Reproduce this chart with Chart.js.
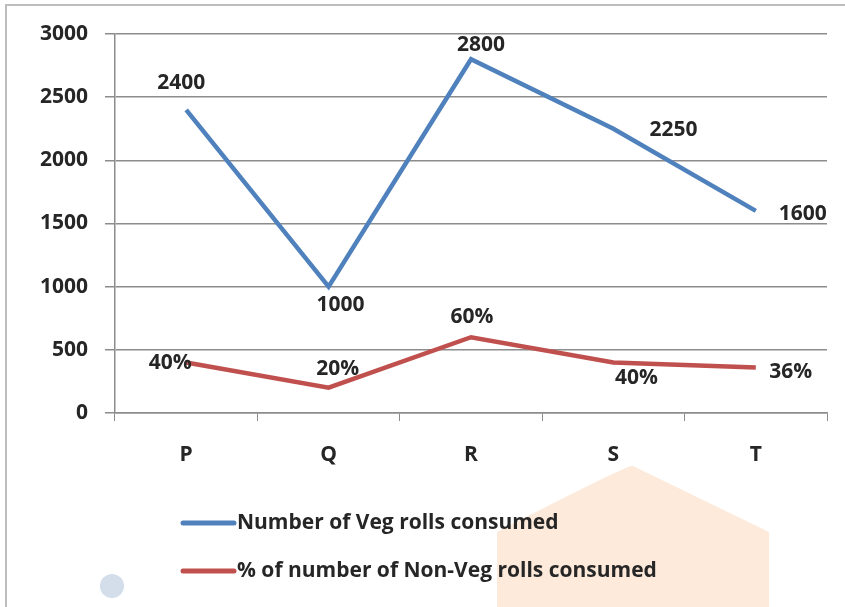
<!DOCTYPE html>
<html lang="en">
<head>
  <meta charset="UTF-8" />
  <title>Veg and Non-Veg rolls consumed</title>
  <script src="https://cdn.jsdelivr.net/npm/chart.js"></script>
  <style>
    html, body { margin: 0; padding: 0; background: #ffffff; }
    #wrap { width: 845px; height: 607px; position: relative; }
  </style>
</head>
<body>
  <div id="wrap"><canvas id="grafica" width="845" height="607"></canvas></div>

  <script>
  // categories and values
  const categorias = ['P', 'Q', 'R', 'S', 'T'];
  const vegRolls = [2400, 1000, 2800, 2250, 1600];
  const nonVegPct = [400, 200, 600, 400, 360];
  const nonVegLabels = ['40%', '20%', '60%', '40%', '36%'];
  const vegLabels = ['2400', '1000', '2800', '2250', '1600'];
  const nombres = ['Number of Veg rolls consumed', '% of number of Non-Veg rolls consumed'];

  // label placement (centre offset from the point, in px)
  const offVeg = [[-5, -27], [12, 18], [10, -14], [60, 1], [47, 3]];
  const offNonVeg = [[-16, 1], [9, -19], [1, -20], [23, 16], [35, 4]];

  const fuente = "'Open Sans', 'DejaVu Sans', sans-serif";
  const texto = '#262626';

  const fondo = {
    id: 'fondo',
    beforeDraw(chart) {
      const c = chart.ctx;
      c.save();
      c.fillStyle = '#ffffff';
      c.fillRect(0, 0, chart.width, chart.height);
      // faint watermark shapes
      c.fillStyle = '#fdeadb';
      c.beginPath();
      c.moveTo(497, 607);
      c.lineTo(497, 532);
      c.quadraticCurveTo(633, 462, 633, 466);
      c.lineTo(769, 532);
      c.lineTo(769, 607);
      c.closePath();
      c.fill();
      c.fillStyle = '#d3deea';
      c.beginPath();
      c.arc(112, 586, 12, 0, Math.PI * 2);
      c.fill();
      // outer frame
      c.strokeStyle = '#bdbdbd';
      c.lineWidth = 2;
      c.strokeRect(6, 5, 900, 700);
      c.restore();
    }
  };

  const etiquetas = {
    id: 'etiquetas',
    afterDatasetsDraw(chart) {
      const c = chart.ctx;
      c.save();
      c.font = 'bold 21px ' + fuente;
      c.fillStyle = texto;
      c.textAlign = 'center';
      c.textBaseline = 'middle';
      const grupos = [[vegLabels, offVeg], [nonVegLabels, offNonVeg]];
      grupos.forEach(([labs, offs], i) => {
        chart.getDatasetMeta(i).data.forEach((p, j) => {
          c.fillText(labs[j], p.x + offs[j][0], p.y + offs[j][1]);
        });
      });
      c.restore();
    }
  };

  const leyenda = {
    id: 'leyenda',
    afterDraw(chart) {
      const c = chart.ctx;
      c.save();
      c.font = 'bold 21px ' + fuente;
      c.textBaseline = 'middle';
      c.textAlign = 'left';
      chart.data.datasets.forEach((ds, i) => {
        const y = 523 + i * 48;
        c.strokeStyle = ds.borderColor;
        c.lineWidth = 5;
        c.lineCap = 'round';
        c.beginPath();
        c.moveTo(183, y);
        c.lineTo(234, y);
        c.stroke();
        c.fillStyle = texto;
        c.fillText(ds.label, 237, y);
      });
      c.restore();
    }
  };

  const ctx = document.getElementById('grafica').getContext('2d');
  new Chart(ctx, {
    type: 'line',
    data: {
      labels: categorias,
      datasets: [
        {
          label: nombres[0],
          data: vegRolls,
          borderColor: '#4f81bd',
          borderWidth: 4.5,
          pointRadius: 0,
          tension: 0,
          fill: false
        },
        {
          label: nombres[1],
          data: nonVegPct,
          borderColor: '#c0504d',
          borderWidth: 4.5,
          pointRadius: 0,
          tension: 0,
          fill: false
        }
      ]
    },
    options: {
      responsive: false,
      animation: false,
      layout: { padding: { top: 34, right: 18, bottom: 0, left: 0 } },
      plugins: {
        legend: { display: false },
        tooltip: { enabled: false }
      },
      scales: {
        x: {
          offset: true,
          grid: {
            offset: true,
            drawOnChartArea: false,
            drawTicks: true,
            tickLength: 8,
            color: '#8c8c8c'
          },
          border: { color: '#8c8c8c', width: 1.5 },
          ticks: {
            color: texto,
            padding: 21,
            font: { family: fuente, size: 21, weight: 'bold' }
          },
          afterFit(scale) { scale.height = 194; }
        },
        y: {
          min: 0,
          max: 3000,
          ticks: {
            stepSize: 500,
            color: texto,
            padding: 17,
            font: { family: fuente, size: 21, weight: 'bold' },
            callback: v => String(v)
          },
          grid: { color: '#8c8c8c', lineWidth: 1.5, tickLength: 10 },
          border: { color: '#8c8c8c', width: 1.5 },
          afterFit(scale) { scale.width = 115; }
        }
      }
    },
    plugins: [fondo, etiquetas, leyenda]
  });
  </script>
</body>
</html>
